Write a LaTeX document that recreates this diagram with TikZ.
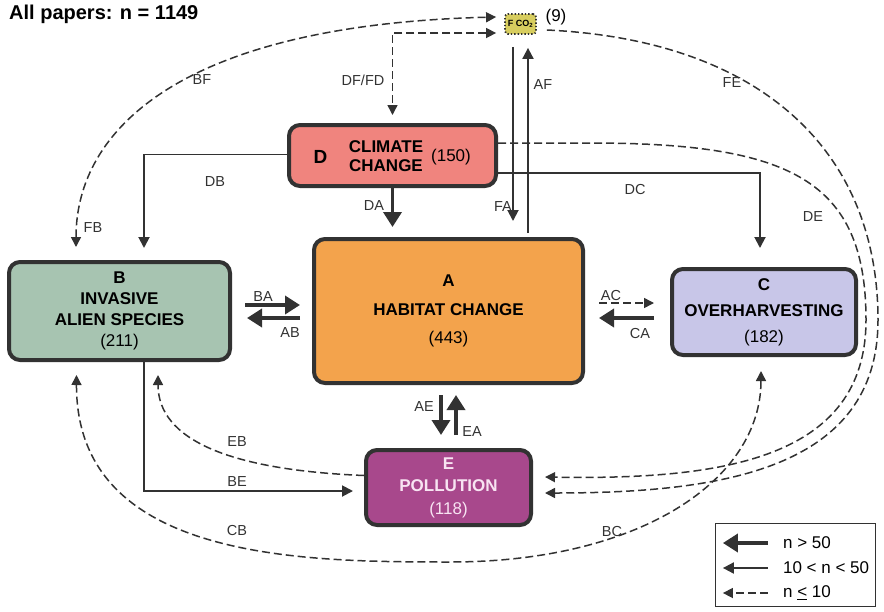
\documentclass[tikz,border=0pt]{standalone}
\usepackage{fontspec}
\setmainfont{Liberation Sans}
\usetikzlibrary{arrows.meta,calc}
\definecolor{lc}{RGB}{50,50,50}
\definecolor{colA}{RGB}{243,163,76}
\definecolor{colB}{RGB}{167,196,177}
\definecolor{colC}{RGB}{200,198,232}
\definecolor{colD}{RGB}{240,132,126}
\definecolor{colE}{RGB}{168,72,140}
\definecolor{colF}{RGB}{215,205,95}
\definecolor{txtE}{RGB}{248,228,242}
\begin{document}
\begin{tikzpicture}[x=1pt,y=-1pt,
  box/.style={draw=lc, line width=4pt, rounded corners=11pt, inner sep=0pt, align=center, text=black},
  lbl/.style={font=\fontsize{14.5}{16}\selectfont, text=lc, inner sep=0pt},
  thickarr/.style={draw=lc, line width=3.6pt, -{Triangle[length=15pt,width=18pt]}},
  medarr/.style={draw=lc, line width=1.9pt, -{Triangle[length=11pt,width=11pt]}},
  dasharr/.style={draw=lc, line width=1.5pt, dash pattern=on 8pt off 4pt, -{Triangle[length=10pt,width=10pt]}},
  dashboth/.style={draw=lc, line width=1.5pt, dash pattern=on 8pt off 4pt, {Triangle[length=10pt,width=10pt]}-{Triangle[length=10pt,width=10pt]}},
  legtxt/.style={anchor=west, font=\fontsize{17}{19}\selectfont, text=black, inner sep=0pt}
]
\useasboundingbox (0,0) rectangle (884,611);

% title
\node[anchor=west, font=\fontsize{20}{22}\selectfont\bfseries, inner sep=0pt] (title) at (9,14) {All papers: n = 1149};

% boxes
\node[box, fill=colA, minimum width=269pt, minimum height=144pt, font=\fontsize{17}{28.5}\selectfont] (A) at (448.5,311)
  {\textbf{A}\\\textbf{HABITAT CHANGE}\\(443)};
\node[box, fill=colB, minimum width=221pt, minimum height=98pt, font=\fontsize{17}{21}\selectfont] (B) at (119.5,311)
  {\textbf{B}\\\textbf{INVASIVE}\\\textbf{ALIEN SPECIES}\\(211)};
\node[box, fill=colC, minimum width=184pt, minimum height=86pt, font=\fontsize{17}{26}\selectfont] (C) at (764,312)
  {\textbf{C}\\\textbf{OVERHARVESTING}\\(182)};
\node[box, fill=colE, text=txtE, minimum width=165pt, minimum height=75pt, font=\fontsize{17}{22.5}\selectfont] (E) at (448.5,487.5)
  {\textbf{E}\\\textbf{POLLUTION}\\(118)};
\node[box, fill=colD, minimum width=207pt, minimum height=61pt] (D) at (392.5,155.5) {};
\node[font=\fontsize{19}{20}\selectfont\bfseries, inner sep=0pt] (Dl) at ($(D)+(-72,1.5)$) {D};
\node[font=\fontsize{17}{19}\selectfont\bfseries, align=center, inner sep=0pt] (Dt) at ($(D)+(-6.5,1)$) {CLIMATE\\CHANGE};
\node[font=\fontsize{17}{19}\selectfont, inner sep=0pt] (Dn) at ($(D)+(58.5,1.5)$) {(150)};

\node[draw=lc, line width=1.8pt, dash pattern=on 1.4pt off 2pt, fill=colF, rounded corners=3pt,
  minimum width=31pt, minimum height=20pt, inner sep=0pt, font=\fontsize{9}{10}\selectfont\bfseries] (F) at (520.5,24) {F CO\textsubscript{2}};
\node[font=\fontsize{17}{19}\selectfont, inner sep=0pt] (Fn) at (556,17) {(9)};

% A <-> B, A <-> C
\draw[thickarr] ($(B.east)+(13,-6)$) -- ($(A.west)+(-12,-6)$);
\draw[thickarr] ($(A.west)+(-12,7)$) -- ($(B.east)+(15,7)$);
\draw[dasharr] ($(A.east)+(14,-8)$) -- ($(C.west)+(-16,-9)$);
\draw[thickarr] ($(C.west)+(-16,6)$) -- ($(A.east)+(14,7)$);
% A <-> E
\draw[thickarr] ($(A.south)+(-7.5,10)$) -- ($(E.north)+(-7.5,-13)$);
\draw[thickarr] ($(E.north)+(7.5,-13)$) -- ($(A.south)+(7.5,10)$);
% D -> A
\draw[thickarr] (D.south) -- ($(A.north)+(-56,-10)$);
% F <-> A
\draw[medarr] ($(F.south)+(-7.5,12)$) -- ($(A.north)+(64.5,-16)$);
\draw[medarr] ($(A.north)+(79.5,-4)$) -- ($(F.south)+(7.5,13)$);
% D <-> F
\draw[dashboth] ($(F.west)+(-8,9)$) -| ($(D.north)+(0,-8)$);
% B <-> F
\draw[dashboth] ($(B.north)+(-43.5,-13)$) .. controls (76,130) and (180,25) .. ($(F.west)+(-8,-7)$);
% D -> B, D -> C
\draw[medarr] ($(D.west)+(0,-1)$) -| ($(B.north)+(24.5,-12)$);
\draw[medarr] ($(D.east)+(0,17.5)$) -| ($(C.north)+(-4,-19)$);
% D -> E, F -> E
\draw[dasharr] ($(D.east)+(0,-12.5)$) -- (590,143) .. controls (790,143) and (866,180) .. (866,320)
  .. controls (866,460) and (720,480) .. ($(E.east)+(12,-10.5)$);
\draw[dasharr] ($(F.east)+(10,6)$) .. controls (760,40) and (878,150) .. (878,320)
  .. controls (878,470) and (720,493) .. ($(E.east)+(12,5.5)$);
% B -> E, E -> B
\draw[medarr] ($(B.south)+(24.5,0)$) |- ($(E.west)+(-11,3.5)$);
\draw[dasharr] ($(E.west)+(0,-12)$) .. controls (230,470) and (158,440) .. ($(B.south)+(38.5,13)$);
% B <-> C
\draw[dashboth] ($(B.south)+(-43,13)$) .. controls (76,560) and (300,562) .. (450,562)
  .. controls (640,562) and (761,480) .. ($(C.south)+(-3,14)$);

% connector labels
\node[lbl] (lBA) at (263,297) {BA};
\node[lbl] (lAB) at (290,333) {AB};
\node[lbl] (lAC) at (611,296) {AC};
\node[lbl] (lCA) at (640,334) {CA};
\node[lbl] (lAE) at (424,407) {AE};
\node[lbl] (lEA) at (472,432) {EA};
\node[lbl] (lDA) at (374,206) {DA};
\node[lbl] (lFA) at (503,207) {FA};
\node[lbl] (lAF) at (543,85) {AF};
\node[lbl] (lDF) at (363,80) {DF/FD};
\node[lbl] (lBF) at (202,80) {BF};
\node[lbl] (lFB) at (93,228) {FB};
\node[lbl] (lDB) at (215,182) {DB};
\node[lbl] (lDC) at (635,190) {DC};
\node[lbl] (lDE) at (813,217) {DE};
\node[lbl] (lFE) at (732,83) {FE};
\node[lbl] (lEB) at (237,442) {EB};
\node[lbl] (lBE) at (237,482) {BE};
\node[lbl] (lCB) at (237,530) {CB};
\node[lbl] (lBC) at (612,532) {BC};

% legend
\node[draw=lc, line width=1.2pt, minimum width=160pt, minimum height=83pt, inner sep=0pt] (L) at (795.5,565) {};
\draw[thickarr] ($(L.west)+(53,-22)$) -- ($(L.west)+(8,-22)$);
\draw[medarr] ($(L.west)+(53,3)$) -- ($(L.west)+(8,3)$);
\draw[dasharr] ($(L.west)+(53,28)$) -- ($(L.west)+(8,28)$);
\node[legtxt] (L1) at ($(L.west)+(68,-22)$) {n > 50};
\node[legtxt] (L2) at ($(L.west)+(68,3)$) {10 < n < 50};
\node[legtxt] (L3) at ($(L.west)+(68,28)$) {n \underline{<} 10};
\end{tikzpicture}
\end{document}
